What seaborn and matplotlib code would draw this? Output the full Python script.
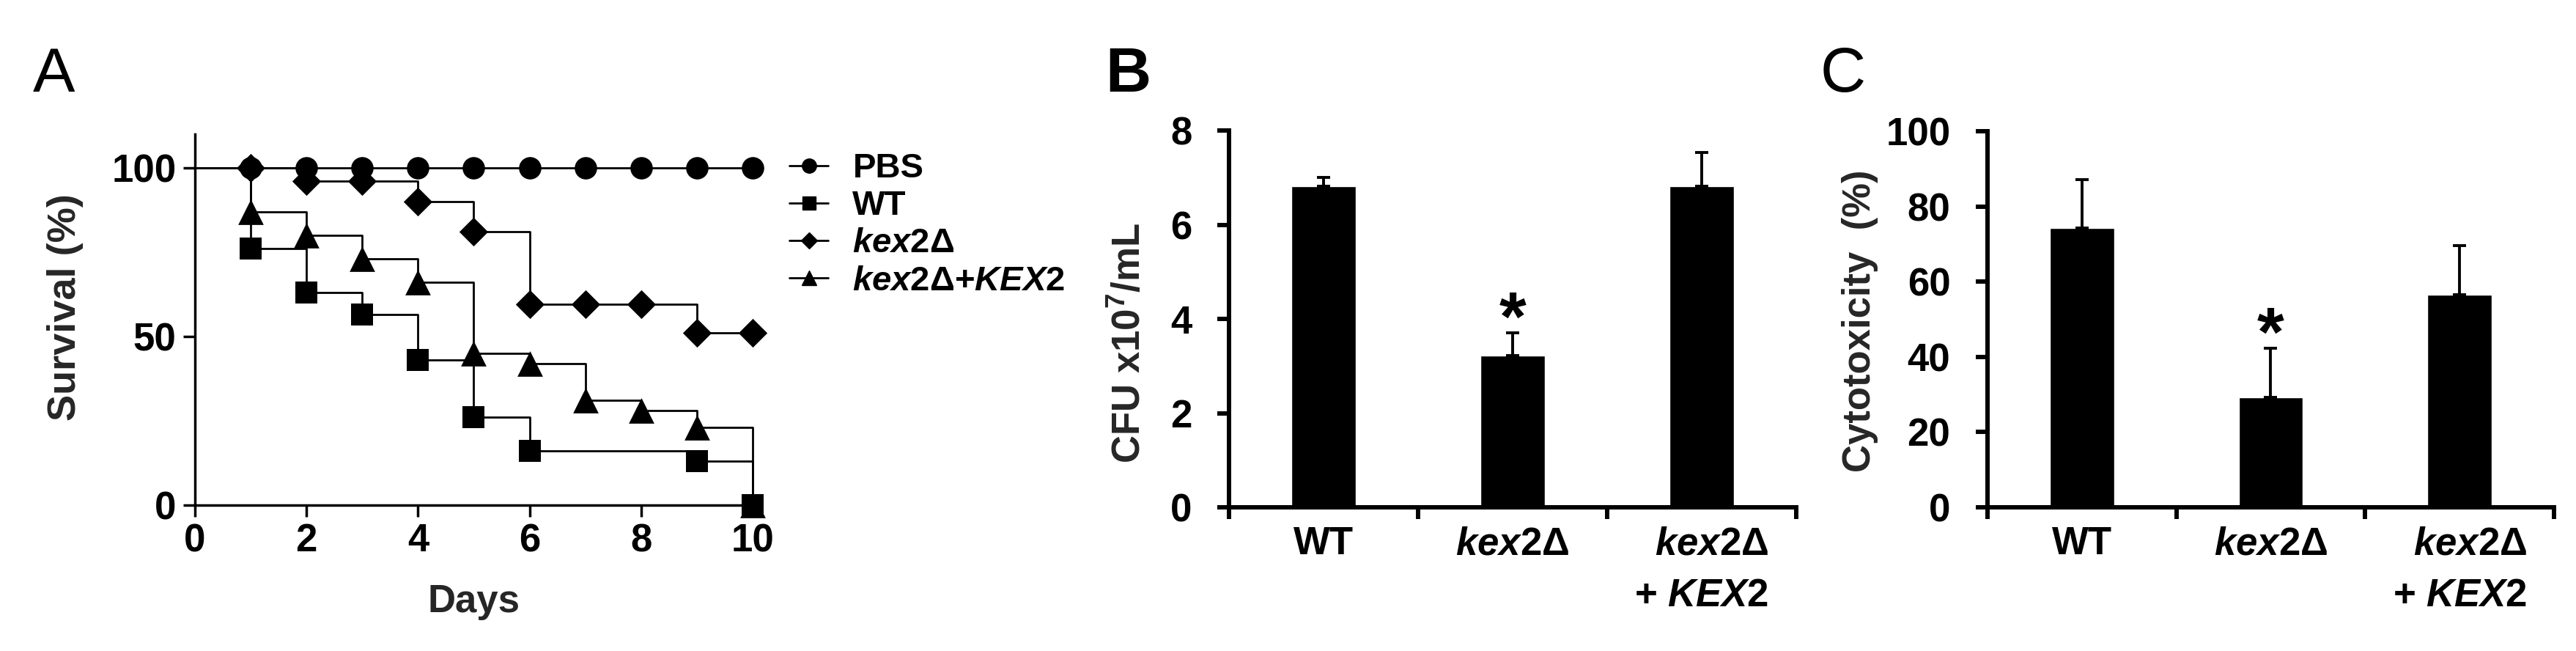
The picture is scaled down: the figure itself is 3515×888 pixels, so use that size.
import numpy as np
import pandas as pd
import matplotlib
matplotlib.use("Agg")
import matplotlib.pyplot as plt
from matplotlib.lines import Line2D
from matplotlib.ticker import FixedLocator, NullFormatter
import seaborn as sns

# ---------------- data ----------------
days = [0, 1, 2, 3, 4, 5, 6, 7, 8, 9, 10]
surv_pbs = [100, 100, 100, 100, 100, 100, 100, 100, 100, 100, 100]
surv_wt = [100, 76, 63, 56.5, 43, 26, 16, 16, 16, 13, 0]
surv_kex2 = [100, 100, 96, 96, 90, 81, 59.5, 59.5, 59.5, 51, 51]
surv_comp = [100, 87, 80, 73, 66, 45, 42, 31, 28, 23, 0]
# days on which a symbol is drawn for each curve
mark_days_pbs = [1, 2, 3, 4, 5, 6, 7, 8, 9, 10]
mark_days_wt = [1, 2, 3, 4, 5, 6, 9, 10]
mark_days_kex2 = [1, 2, 3, 4, 5, 6, 7, 8, 9, 10]
mark_days_comp = [1, 2, 3, 4, 5, 6, 7, 8, 9, 10]
series_names = ["PBS", "WT", "kex2Δ", "kex2Δ+KEX2"]
legend_labels = ["PBS", "WT", r"$\mathit{kex2}$Δ", r"$\mathit{kex2}$Δ+$\mathit{KEX2}$"]
series_markers = ["o", "s", "D", "^"]

bar_groups = ["WT", "kex2Δ", "kex2Δ + KEX2"]
bar_tick_labels = ["WT", r"$\mathit{kex2}$Δ", r"$\mathit{kex2}$Δ" + "\n+ " + r"$\mathit{KEX2}$"]
cfu_mean = [6.82, 3.22, 6.82]
cfu_err = [0.18, 0.48, 0.71]
cyto_mean = [74.3, 29.2, 56.6]
cyto_err = [12.8, 13.1, 13.0]
significant = [False, True, False]

# ---------------- style ----------------
sns.set_theme(style="ticks")
plt.rcParams["font.family"] = ["Liberation Sans", "DejaVu Sans"]
plt.rcParams["font.weight"] = "bold"
plt.rcParams["mathtext.fontset"] = "custom"
plt.rcParams["mathtext.rm"] = "Liberation Sans:bold"
plt.rcParams["mathtext.it"] = "Liberation Sans:italic:bold"
plt.rcParams["mathtext.bf"] = "Liberation Sans:bold"
plt.rcParams["mathtext.default"] = "rm"
plt.rcParams["axes.edgecolor"] = "black"
plt.rcParams["xtick.color"] = "black"
plt.rcParams["ytick.color"] = "black"
plt.rcParams["text.color"] = "black"

W, H = 3516, 888
fig = plt.figure(figsize=(W / 100, H / 100), dpi=100)
fig.patch.set_facecolor("white")


def box(l, t, r, b):
    return [l / W, 1 - b / H, (r - l) / W, (b - t) / H]


axA = fig.add_axes(box(266, 183, 1027, 689))
axB = fig.add_axes(box(1677, 178, 2451, 692))
axC = fig.add_axes(box(2712, 179, 3485, 692))

# ---------------- panel A: survival ----------------
surv = {"PBS": surv_pbs, "WT": surv_wt, "kex2Δ": surv_kex2, "kex2Δ+KEX2": surv_comp}
mark_days = {"PBS": mark_days_pbs, "WT": mark_days_wt, "kex2Δ": mark_days_kex2,
             "kex2Δ+KEX2": mark_days_comp}
msizes = {"o": 22, "s": 21, "D": 20, "^": 25}
draw_order = ["kex2Δ+KEX2", "kex2Δ", "WT", "PBS"]
for name in draw_order:
    vals = surv[name]
    m = series_markers[series_names.index(name)]
    sns.lineplot(x=days, y=vals, drawstyle="steps-post", color="black", lw=2.0,
                 estimator=None, errorbar=None, sort=False, ax=axA)
    md = mark_days[name]
    mv = [vals[days.index(d)] for d in md]
    sns.scatterplot(x=md, y=mv, marker=m, s=msizes[m] ** 2, color="black",
                    edgecolor="black", linewidth=0, ax=axA, zorder=3)
for ln in axA.lines:
    ln.set_clip_on(False)
for coll in axA.collections:
    coll.set_clip_on(False)

axA.set_xlim(0, 10)
axA.set_ylim(0, 110)
axA.set_xticks([0, 2, 4, 6, 8, 10])
axA.set_yticks([0, 50, 100])
for s in ["top", "right"]:
    axA.spines[s].set_visible(False)
for s in ["left", "bottom"]:
    axA.spines[s].set_linewidth(2.5)
axA.tick_params(axis="both", direction="out", length=11.5, width=2.5, labelsize=38)
axA.tick_params(axis="y", pad=7)
axA.tick_params(axis="x", pad=6)
for lbl in axA.get_xticklabels() + axA.get_yticklabels():
    lbl.set_fontweight("bold")
axA.set_xlabel("Days", fontsize=38, fontweight="bold", va="center")
axA.xaxis.set_label_coords(0.5, -0.261)
axA.set_ylabel("Survival (%)", fontsize=39, fontweight="bold", va="center")
axA.yaxis.set_label_coords(-0.232, 0.534)

handles = [Line2D([0], [0], color="black", lw=2.0, marker=m,
                  markersize={"o": 14, "s": 13, "D": 11, "^": 14}[m])
           for m in series_markers]
axA.legend(handles, legend_labels, loc="upper left", bbox_to_anchor=(1.0657, 0.95),
           frameon=False, prop={"size": 34, "weight": "bold"}, handlelength=1.13,
           handletextpad=0.7, borderpad=0, borderaxespad=0, labelspacing=0.15)


# ---------------- panels B and C: bars ----------------
def bar_panel(ax, means, errs, ymax, yticks, ylabel, label_xy):
    df = pd.DataFrame({"group": bar_groups, "value": means})
    sns.barplot(data=df, x="group", y="value", order=bar_groups, color="black",
                saturation=1, width=0.34, errorbar=None, ax=ax, zorder=2)
    ax.errorbar(x=np.arange(len(means)), y=means,
                yerr=[np.zeros(len(means)), errs], fmt="none", ecolor="black",
                elinewidth=2.8, capsize=6.8, capthick=2.8, zorder=3)
    for i, sig in enumerate(significant):
        if sig:
            ax.annotate("*", xy=(i, means[i] + errs[i]), xytext=(0, -7),
                        textcoords="offset points", ha="center", va="baseline",
                        fontsize=68, fontweight="bold", annotation_clip=False)
    ax.set_xlim(-0.5, len(means) - 0.5)
    ax.set_ylim(0, ymax)
    ax.set_yticks(yticks)
    ax.set_xticks(np.arange(len(means)))
    ax.set_xticklabels(bar_tick_labels)
    ax.xaxis.set_minor_locator(FixedLocator(np.arange(len(means) + 1) - 0.5))
    ax.xaxis.set_minor_formatter(NullFormatter())
    for s in ["top", "right"]:
        ax.spines[s].set_visible(False)
    for s in ["left", "bottom"]:
        ax.spines[s].set_linewidth(4.3)
    ax.tick_params(axis="y", direction="out", length=11.5, width=4.3, labelsize=38, pad=25)
    ax.tick_params(axis="x", which="major", length=0, labelsize=38, pad=18)
    ax.tick_params(axis="x", which="minor", direction="out", length=11.5, width=4.3)
    for lbl in ax.get_xticklabels():
        lbl.set_fontweight("bold")
        lbl.set_multialignment("right")
        lbl.set_linespacing(1.55)
    for lbl in ax.get_yticklabels():
        lbl.set_fontweight("bold")
    ax.set_xlabel("")
    ax.set_ylabel(ylabel, fontsize=38, fontweight="bold", va="center")
    ax.yaxis.set_label_coords(*label_xy)


bar_panel(axB, cfu_mean, cfu_err, 8, [0, 2, 4, 6, 8], r"CFU x10$^{7}$/mL", (-0.175, 0.436))
bar_panel(axC, cyto_mean, cyto_err, 100, [0, 20, 40, 60, 80, 100], "Cytotoxicity  (%)",
          (-0.225, 0.495))

# ---------------- panel letters ----------------
fig.text(74 / W, 1 - 125 / H, "A", fontsize=62, fontweight="normal", ha="center", va="baseline")
fig.text(1539 / W, 1 - 125 / H, "B", fontsize=62, fontweight="bold", ha="center", va="baseline")
fig.text(2515 / W, 1 - 125 / H, "C", fontsize=62, fontweight="normal", ha="center", va="baseline")

fig.savefig("out.png", dpi=100, facecolor="white")
